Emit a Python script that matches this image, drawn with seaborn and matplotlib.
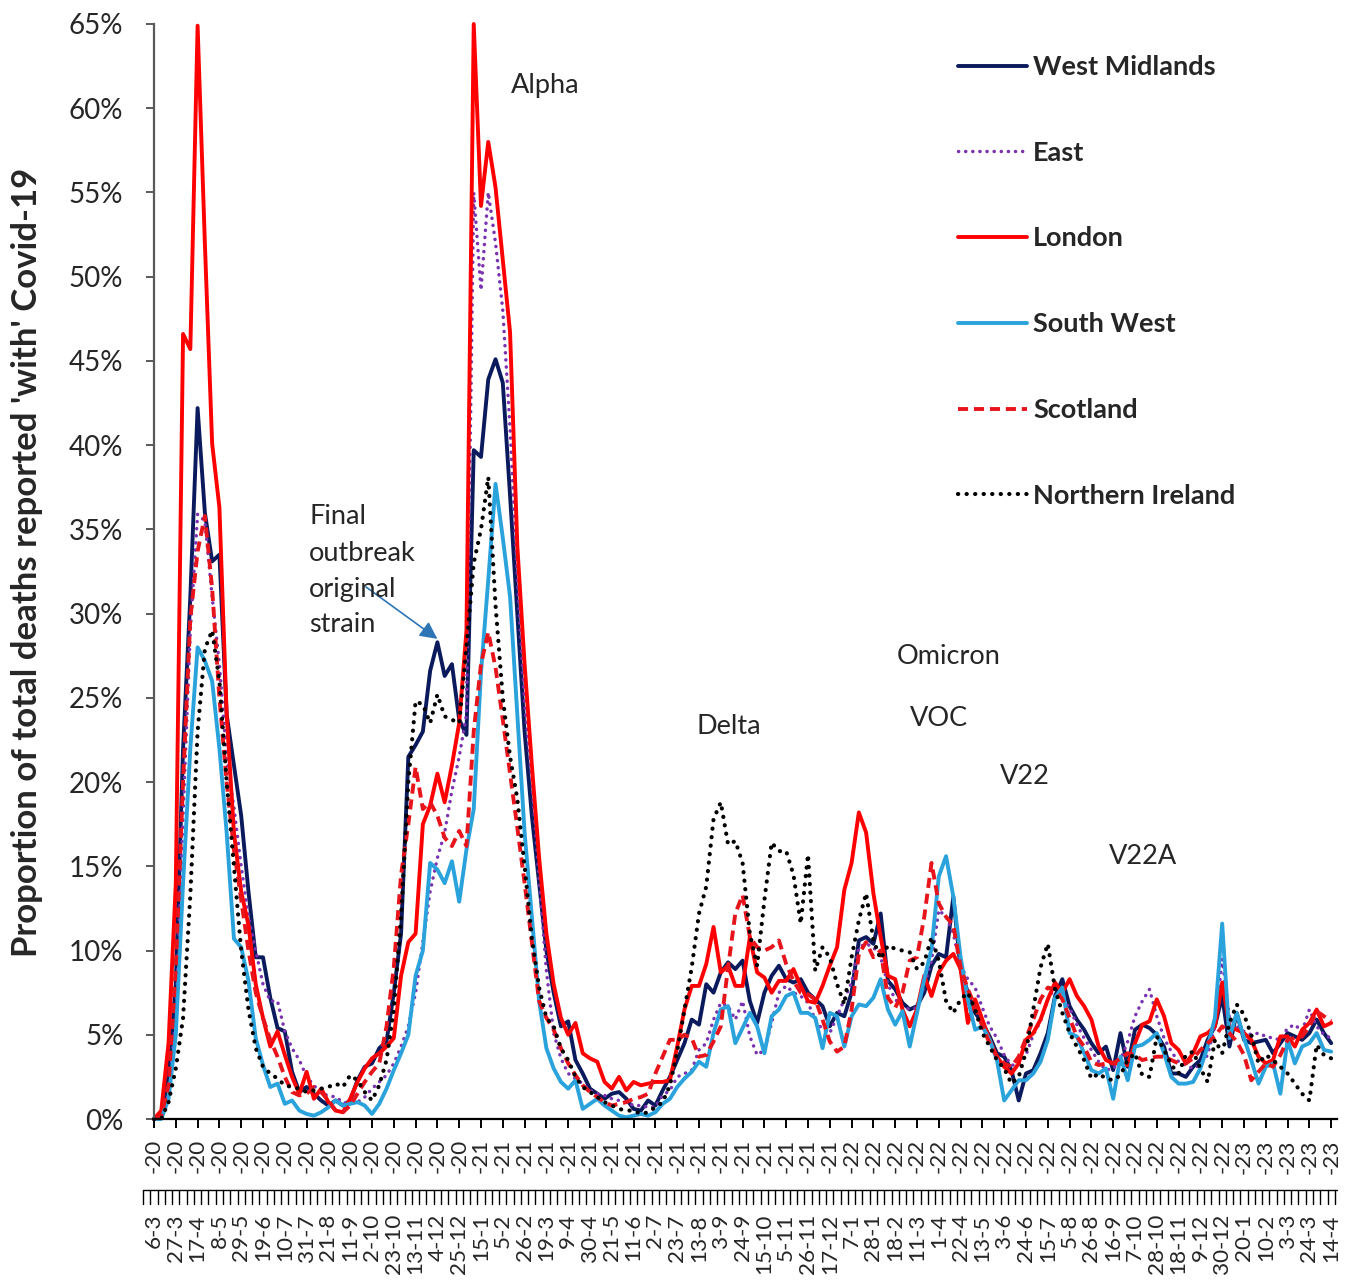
import numpy as np
import pandas as pd
import matplotlib
matplotlib.use("Agg")
import matplotlib.pyplot as plt
import matplotlib.transforms as mtransforms
from matplotlib.lines import Line2D
import seaborn as sns

sns.set_theme(style="white")
plt.rcParams['font.family'] = ['Lato', 'DejaVu Sans']

# Weekly share (%) of all registered deaths that mention Covid-19, 6 Mar 2020 - 14 Apr 2023
west_midlands = [
    0, 0.3, 2.5, 8, 22, 31, 42.2, 36, 33.1, 33.5,
    24, 21, 18, 13.5, 9.6, 9.6, 7.2, 5.4, 5.2, 2.8,
    1.6, 1.9, 1.5, 1.1, 0.8, 1.1, 0.8, 1.1, 2.3, 3.1,
    3.3, 4.2, 4.6, 7.5, 11, 21.5, 22.2, 23, 26.6, 28.3,
    26.3, 27, 23.7, 22.8, 39.7, 39.3, 43.9, 45.1, 43.7, 37,
    30, 23, 18, 14, 10, 7.5, 5.5, 5.8, 3.5, 2.7,
    1.8, 1.5, 1.2, 1.5, 1.6, 1.2, 0.6, 0.5, 1.1, 0.8,
    1.7, 2.5, 3.5, 4.5, 5.9, 5.6, 8.0, 7.5, 8.7, 9.3,
    8.9, 9.4, 7.0, 5.7, 7.5, 8.5, 9.1, 8.3, 8.1, 8.3,
    7.5, 7.1, 6.7, 5.5, 6.3, 6.1, 7.5, 10.6, 10.8, 10.4,
    12.2, 8.2, 7.7, 6.9, 6.5, 6.7, 7.5, 9.1, 9.8, 9.6,
    13.2, 8.9, 7.5, 6.3, 5.7, 4.9, 3.9, 3.7, 2.9, 1.1,
    2.7, 2.9, 3.9, 5.1, 7.3, 8.3, 6.7, 5.9, 5.3, 4.5,
    3.9, 4.3, 2.9, 5.1, 3.1, 5.3, 5.6, 5.4, 5.0, 4.3,
    2.7, 2.7, 2.5, 3.1, 3.5, 4.7, 5.5, 7.3, 4.3, 6.3,
    4.7, 4.5, 4.6, 4.7, 3.9, 4.5, 5.1, 4.9, 4.7, 5.1,
    5.9, 5.1, 4.5]

east = [
    0, 0.1, 1.5, 6, 18, 29, 35.9, 35.5, 31, 27,
    21.5, 18.5, 15, 12, 10, 8, 7, 7, 5.2, 4.2,
    3.5, 2.5, 2.0, 1.5, 1.4, 1.3, 1.0, 0.9, 1.0, 1.3,
    1.8, 2.2, 2.6, 3.3, 4.3, 5.5, 7.5, 10.5, 13.5, 15.5,
    17, 19.5, 21.5, 24, 55, 49.2, 55, 52, 48, 41,
    32, 24.7, 20, 14.2, 8.8, 5.1, 3.6, 2.7, 2.4, 2.1,
    1.7, 1.5, 1.4, 1.2, 1.1, 1.0, 0.8, 0.8, 0.7, 0.7,
    1.4, 1.7, 2.5, 2.7, 2.9, 4.1, 4.5, 5.9, 6.9, 6.7,
    5.9, 7.0, 4.9, 3.8, 4.1, 5.7, 7.5, 7.9, 7.5, 7.3,
    6.9, 5.9, 5.3, 5.1, 6.1, 7.1, 8.1, 10.2, 10.4, 10.2,
    9.6, 8.0, 7.1, 6.7, 6.5, 6.6, 7.9, 9.4, 12.4, 12.0,
    11.0, 9.1, 8.3, 7.8, 6.6, 5.5, 4.8, 3.8, 3.2, 3.2,
    3.8, 5.0, 5.8, 7.1, 7.8, 7.1, 6.6, 5.6, 4.8, 4.1,
    3.4, 2.9, 3.0, 3.5, 4.6, 6.1, 7.0, 7.7, 6.1, 4.8,
    4.0, 3.4, 3.2, 3.0, 3.2, 3.8, 5.5, 9.5, 6.0, 5.5,
    5.2, 5.0, 5.1, 4.9, 4.8, 4.7, 5.4, 5.6, 5.2, 6.5,
    5.5, 5.0, 4.8]

london = [
    0, 0.5, 4.5, 14, 46.6, 45.7, 64.9, 52, 40.1, 36.3,
    24, 17, 13.5, 11.5, 8, 6, 4.3, 5.2, 3.8, 2.5,
    1.5, 2.8, 1.2, 1.8, 1.0, 0.5, 0.4, 1.2, 2.2, 3.0,
    3.6, 3.9, 4.3, 4.8, 8.5, 10.5, 11, 17.5, 18.6, 20.5,
    18.8, 21, 23.5, 29, 65, 54.2, 58, 55.3, 51, 46.7,
    34, 27, 21, 15.5, 11, 8, 6, 5, 5.7, 3.9,
    3.6, 3.4, 2.2, 1.8, 2.5, 1.7, 2.2, 2.0, 2.1, 2.2,
    2.2, 2.3, 4.3, 6.5, 7.9, 7.9, 9.2, 11.4, 8.7, 9.1,
    7.9, 7.9, 10.8, 8.7, 8.4, 7.5, 8.2, 8.2, 8.9, 7.9,
    7.0, 6.9, 7.9, 9.1, 10.2, 13.6, 15.2, 18.2, 17.0, 13.4,
    10.8, 8.5, 8.3, 6.5, 5.5, 6.5, 8.5, 7.3, 8.7, 9.4,
    9.8, 8.9, 5.7, 7.1, 5.9, 4.7, 3.7, 3.1, 2.7, 3.3,
    4.7, 5.1, 5.9, 7.1, 8.1, 7.5, 8.3, 7.3, 6.7, 5.9,
    4.3, 3.5, 3.3, 3.3, 3.2, 4.5, 5.6, 5.8, 7.1, 6.1,
    4.5, 4.1, 3.3, 3.9, 4.9, 5.1, 5.5, 8.1, 5.5, 5.3,
    5.1, 4.7, 3.7, 3.3, 3.5, 4.9, 4.9, 4.3, 5.3, 5.7,
    6.5, 5.5, 5.7]

south_west = [
    0, 0, 1.2, 5, 14, 22, 28, 27.2, 26, 22,
    17, 10.7, 10.2, 8.2, 4.8, 3.2, 1.9, 2.1, 0.9, 1.1,
    0.5, 0.3, 0.2, 0.4, 0.7, 1.1, 0.8, 0.9, 1.0, 0.8,
    0.3, 0.9, 1.8, 2.9, 3.9, 5.0, 8.5, 10, 15.2, 14.8,
    14, 15.3, 12.9, 16, 18.4, 26.5, 32, 37.7, 34.5, 31,
    24, 17, 12, 7, 4.2, 3, 2.2, 1.8, 2.3, 0.6,
    0.9, 1.2, 0.8, 0.5, 0.2, 0.1, 0.2, 0.3, 0.2, 0.4,
    0.9, 1.2, 1.9, 2.4, 2.8, 3.4, 3.1, 5.1, 6.5, 6.7,
    4.5, 5.4, 6.3, 5.5, 3.9, 6.1, 6.5, 7.3, 7.5, 6.3,
    6.3, 6.0, 4.2, 6.3, 6.1, 4.3, 6.1, 6.8, 6.7, 7.2,
    8.3, 6.5, 5.6, 6.4, 4.3, 6.3, 8.3, 10.1, 14.4, 15.6,
    13.2, 9.6, 7.1, 5.3, 5.5, 4.7, 3.5, 1.1, 1.7, 2.3,
    2.3, 2.7, 3.4, 4.7, 7.2, 7.8, 5.1, 4.9, 3.9, 2.9,
    2.7, 3.0, 1.2, 3.7, 2.3, 4.3, 4.4, 4.7, 5.1, 3.9,
    2.5, 2.1, 2.1, 2.2, 3.0, 4.3, 6.0, 11.6, 4.8, 6.3,
    4.8, 3.5, 2.1, 3.1, 3.3, 1.5, 4.7, 3.3, 4.3, 4.5,
    5.1, 4.1, 4.0]

scotland = [
    0, 0.2, 2, 9, 20, 29.7, 33.7, 35.8, 31.5, 25,
    20, 16, 13, 10, 7.5, 6, 4.7, 3.7, 2.5, 1.6,
    1.4, 1.5, 1.9, 1.6, 1.1, 0.5, 0.4, 0.8, 1.5, 2.2,
    2.8, 3.3, 5.5, 9, 14.5, 17.5, 20.9, 18.4, 18.8, 18,
    16.7, 16.2, 17.1, 16.2, 23, 27, 28.9, 26.8, 23.7, 20.5,
    17.3, 14, 10.5, 7, 6, 5.3, 4.2, 3.3, 2.6, 2.0,
    1.6, 1.3, 1.0, 0.8, 0.9, 1.0, 1.2, 1.3, 1.5, 2.7,
    3.7, 4.7, 4.7, 5.0, 4.8, 3.7, 3.8, 4.6, 5.5, 9.0,
    12.2, 13.3, 10.8, 10.2, 10.0, 10.2, 10.6, 9.2, 8.2, 7.5,
    7.4, 7.1, 5.9, 4.6, 4.0, 4.3, 6.5, 9.8, 10.5, 9.6,
    10.0, 7.2, 6.6, 7.5, 9.4, 9.6, 12.0, 15.2, 12.8, 12.0,
    11.5, 9.0, 7.7, 6.7, 5.5, 4.5, 3.7, 3.3, 3.1, 3.7,
    4.8, 5.9, 7.1, 7.8, 7.7, 7.1, 6.0, 4.9, 4.3, 3.4,
    3.2, 3.3, 3.3, 3.6, 3.9, 3.8, 3.5, 3.6, 3.7, 3.7,
    3.5, 3.3, 3.3, 3.6, 4.1, 4.5, 4.9, 5.5, 5.1, 4.6,
    3.8, 2.3, 2.8, 3.3, 3.1, 3.8, 4.7, 4.8, 4.9, 5.5,
    6.4, 6.1, 5.8]

northern_ireland = [
    0, 0, 1, 3, 6, 13.3, 23, 27.9, 29, 26,
    20, 15, 10, 6.5, 4.2, 3.1, 2.7, 2.4, 2.0, 1.9,
    1.8, 1.6, 1.7, 1.8, 1.9, 2.1, 1.9, 2.6, 2.3, 1.6,
    1.1, 2.0, 3.5, 6.5, 12, 20, 24.8, 24.6, 23.5, 25.2,
    23.9, 23.7, 23.5, 28, 33, 35, 38.1, 30.5, 25, 21.5,
    19, 15, 10.7, 7.8, 6, 5.5, 4.2, 3.5, 2.5, 1.9,
    1.6, 1.3, 1.0, 0.8, 0.6, 0.5, 0.5, 0.3, 0.4, 0.7,
    1.0, 2.0, 4.0, 6.5, 9.0, 12.2, 13.8, 17.8, 18.8, 16.3,
    16.5, 15.2, 11.0, 9.1, 13.0, 16.4, 15.9, 15.9, 14.5, 11.6,
    15.7, 8.8, 10.2, 9.6, 8.0, 6.8, 9.6, 11.8, 13.4, 10.6,
    9.5, 10.3, 10.1, 10.0, 9.9, 8.9, 9.3, 10.8, 9.4, 7.0,
    6.3, 7.1, 7.5, 6.5, 5.1, 4.3, 3.5, 3.0, 2.1, 2.5,
    4.0, 6.5, 9.0, 10.4, 7.7, 6.3, 5.1, 4.3, 3.5, 2.4,
    2.7, 2.4, 2.3, 2.6, 3.5, 3.9, 2.6, 2.5, 4.9, 4.1,
    3.2, 2.7, 3.8, 4.0, 3.0, 2.2, 4.7, 3.9, 5.7, 6.8,
    6.2, 5.0, 3.3, 3.8, 3.5, 3.1, 2.7, 2.1, 1.5, 1.1,
    4.4, 3.8, 3.6]

# Category labels shown on every third week (day-month, then year suffix)
day_month_labels = [
    "6-3", "27-3", "17-4", "8-5", "29-5", "19-6", "10-7", "31-7", "21-8", "11-9",
    "2-10", "23-10", "13-11", "4-12", "25-12", "15-1", "5-2", "26-2", "19-3", "9-4",
    "30-4", "21-5", "11-6", "2-7", "23-7", "13-8", "3-9", "24-9", "15-10", "5-11",
    "26-11", "17-12", "7-1", "28-1", "18-2", "11-3", "1-4", "22-4", "13-5", "3-6",
    "24-6", "15-7", "5-8", "26-8", "16-9", "7-10", "28-10", "18-11", "9-12", "30-12",
    "20-1", "10-2", "3-3", "24-3", "14-4"]
year_labels = ["-20"] * 15 + ["-21"] * 17 + ["-22"] * 18 + ["-23"] * 5

regions = ["West Midlands", "East", "London", "South West", "Scotland", "Northern Ireland"]
series = [west_midlands, east, london, south_west, scotland, northern_ireland]

df = pd.DataFrame({name: vals for name, vals in zip(regions, series)})
df["week"] = np.arange(len(df))
long_df = df.melt(id_vars="week", var_name="region", value_name="share")

styles = {
    "West Midlands":    dict(color="#0a1a5c", lw=2.8, dashes=None, cap="butt"),
    "East":             dict(color="#7a33b0", lw=2.5, dashes=(0.05, 2.0), cap="round"),
    "London":           dict(color="#ff0000", lw=2.8, dashes=None, cap="butt"),
    "South West":       dict(color="#2aa2dc", lw=2.8, dashes=None, cap="butt"),
    "Scotland":         dict(color="#e8141c", lw=2.8, dashes=(2.6, 1.5), cap="butt"),
    "Northern Ireland": dict(color="#000000", lw=3.0, dashes=(0.05, 2.0), cap="round"),
}

W, H = 1354, 1287
def fpx(x, y):
    return (x / W, 1 - y / H)

fig = plt.figure(figsize=(W / 100, H / 100), dpi=100)
ax = fig.add_axes([154 / W, 1 - 1119 / H, (1337 - 154) / W, (1119 - 24) / H])

for name in regions:
    st = styles[name]
    sub = long_df[long_df["region"] == name]
    sns.lineplot(data=sub, x="week", y="share", ax=ax, color=st["color"],
                 linewidth=st["lw"], legend=False)
    line = ax.lines[-1]
    if st["dashes"] is not None:
        line.set_dashes(st["dashes"])
    line.set_dash_capstyle(st["cap"])
    line.set_solid_joinstyle("round")
    line.set_clip_on(False)

n_weeks = len(df)
ax.set_xlim(0, n_weeks - 0.2)
ax.set_ylim(0, 65)
ax.set_yticks(np.arange(0, 66, 5))
ax.set_yticklabels([f"{v}%" for v in range(0, 66, 5)])
tick_pos = np.arange(0, n_weeks, 3)
ax.set_xticks(tick_pos)
ax.set_xticklabels(year_labels, rotation=90, va="top", ha="center")
ax.set_xlabel("")
ax.set_ylabel("")

for side in ["top", "right"]:
    ax.spines[side].set_visible(False)
ax.spines["left"].set_color("#595959")
ax.spines["left"].set_linewidth(1.6)
ax.spines["bottom"].set_color("#000000")
ax.spines["bottom"].set_linewidth(1.6)
ax.tick_params(axis="y", which="major", direction="out", length=6, width=1.4,
               color="#595959", labelsize=20, pad=16, left=True)
ax.tick_params(axis="x", which="major", direction="out", length=6.5, width=1.4,
               color="#000000", labelsize=16.2, pad=8, bottom=True)

# Outer level of the two-row category axis
blend = mtransforms.blended_transform_factory(ax.transData, fig.transFigure)
for pos, lab in zip(tick_pos, day_month_labels):
    ax.text(pos, 1 - 1214 / H, lab, transform=blend, rotation=90, ha="center",
            va="top", fontsize=16.2, clip_on=False)
# separator boxes between the two label rows
sep_top, sep_bot = 1 - 1190 / H, 1 - 1204 / H
ax.plot([-1.5, n_weeks - 0.2], [sep_top, sep_top], transform=blend, color="black",
        lw=1.0, clip_on=False)
for b in np.arange(-1.5, n_weeks, 1.0):
    ax.plot([b, b], [sep_top, sep_bot], transform=blend, color="black", lw=1.0,
            clip_on=False)

fig.text(*fpx(27, 562), "Proportion of total deaths reported 'with' Covid-19",
         rotation=90, ha="center", va="center", fontsize=25, fontweight="bold")

handles = []
for name in regions:
    st = styles[name]
    h = Line2D([0], [0], color=st["color"], lw=st["lw"])
    if st["dashes"] is not None:
        h.set_dashes(st["dashes"])
    h.set_dash_capstyle(st["cap"])
    handles.append(h)
leg = ax.legend(handles, regions, loc="upper left", bbox_to_anchor=fpx(958, 55),
                bbox_transform=fig.transFigure, frameon=False, handlelength=2.55,
                handletextpad=0.22, labelspacing=2.28, borderpad=0, borderaxespad=0,
                prop=dict(weight="bold", size=19.5))

ann_size = 19.5
fig.text(*fpx(545, 86), "Alpha", ha="center", va="center", fontsize=ann_size)
for txt, yy in zip(["Final", "outbreak", "original", "strain"], [517, 553, 589, 624]):
    fig.text(*fpx(309, yy), txt, ha="left", va="center", fontsize=ann_size)
fig.text(*fpx(949, 656), "Omicron", ha="center", va="center", fontsize=ann_size)
fig.text(*fpx(939, 719), "VOC", ha="center", va="center", fontsize=ann_size)
fig.text(*fpx(729, 727), "Delta", ha="center", va="center", fontsize=ann_size)
fig.text(*fpx(1025, 776), "V22", ha="center", va="center", fontsize=ann_size)
fig.text(*fpx(1143, 857), "V22A", ha="center", va="center", fontsize=ann_size)

ax.annotate("", xy=(39, west_midlands[39] + 0.2), xycoords="data",
            xytext=fpx(366, 587), textcoords="figure fraction",
            arrowprops=dict(arrowstyle="-|>", color="#2e75b6", lw=1.2,
                            mutation_scale=26, shrinkA=0, shrinkB=0))

fig.savefig("out.png", dpi=100)
